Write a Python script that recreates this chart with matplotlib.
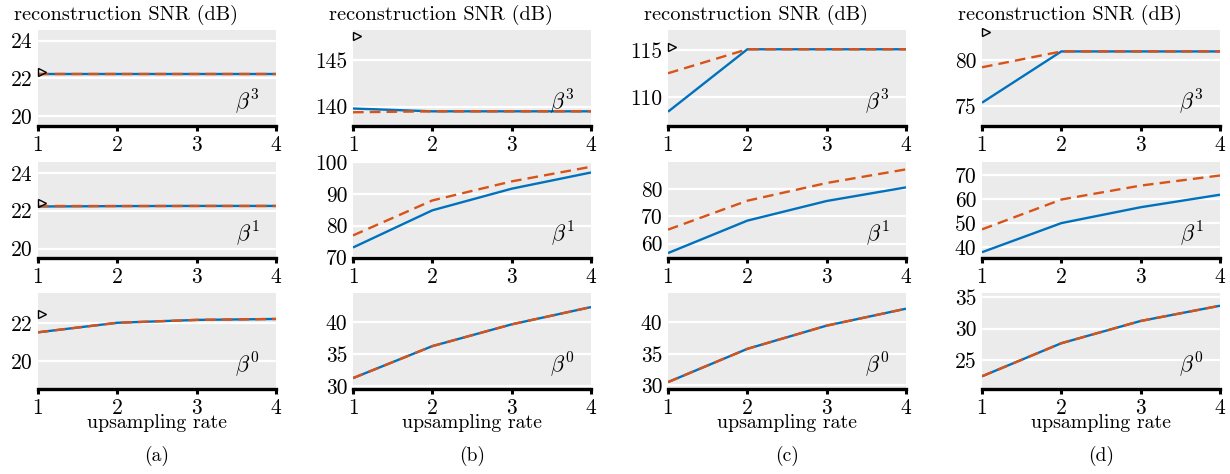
import matplotlib
matplotlib.use("Agg")
import matplotlib.pyplot as plt
import matplotlib.transforms as mtransforms

plt.rcParams['font.family'] = 'serif'
plt.rcParams['font.serif'] = ['cmr10']
plt.rcParams['mathtext.fontset'] = 'cm'
plt.rcParams['axes.unicode_minus'] = False
plt.rcParams['axes.formatter.use_mathtext'] = True

# ---------------- data ----------------
rates = [1, 2, 3, 4]
column_tags = ['(a)', '(b)', '(c)', '(d)']
row_labels = [r'$\beta^3$', r'$\beta^1$', r'$\beta^0$']

# solid (blue) series per column, rows = beta^3, beta^1, beta^0
solid_a = [[22.25, 22.25, 22.25, 22.25], [22.22, 22.24, 22.25, 22.25], [21.5, 22.0, 22.15, 22.2]]
dashed_a = [[22.25, 22.25, 22.25, 22.25], [22.25, 22.25, 22.25, 22.25], [21.5, 22.0, 22.15, 22.2]]
solid_b = [[139.8, 139.5, 139.5, 139.5], [73.1, 84.8, 91.6, 96.7], [31.3, 36.3, 39.7, 42.4]]
dashed_b = [[139.4, 139.5, 139.5, 139.5], [76.9, 87.9, 93.9, 98.5], [31.3, 36.3, 39.7, 42.4]]
solid_c = [[108.5, 115.07, 115.07, 115.07], [56.5, 68.4, 75.6, 80.6], [30.5, 35.8, 39.5, 42.2]]
dashed_c = [[112.55, 115.07, 115.07, 115.07], [65.1, 75.7, 82.2, 87.2], [30.5, 35.8, 39.5, 42.2]]
solid_d = [[75.4, 80.9, 80.9, 80.9], [37.8, 49.9, 56.5, 61.7], [22.5, 27.7, 31.2, 33.6]]
dashed_d = [[79.2, 80.9, 80.9, 80.9], [47.3, 59.7, 65.5, 69.7], [22.5, 27.7, 31.2, 33.6]]

# reference values (triangle markers at rate 1); None = no marker
ref_a = [22.35, 22.38, 22.44]
ref_b = [147.6, None, None]
ref_c = [115.35, None, None]
ref_d = [83.0, None, None]

ylims_a = [(19.47, 24.57), (19.5, 24.57), (18.53, 23.56)]
ylims_b = [(137.93, 148.2), (69.8, 100.0), (29.6, 44.6)]
ylims_c = [(107.0, 117.1), (54.7, 89.9), (29.4, 44.7)]
ylims_d = [(72.9, 83.2), (35.4, 75.3), (20.5, 35.6)]

yticks_a = [[20, 22, 24], [20, 22, 24], [20, 22]]
yticks_b = [[140, 145], [70, 80, 90, 100], [30, 35, 40]]
yticks_c = [[110, 115], [60, 70, 80], [30, 35, 40]]
yticks_d = [[75, 80], [40, 50, 60, 70], [25, 30, 35]]

solids = [solid_a, solid_b, solid_c, solid_d]
dashes = [dashed_a, dashed_b, dashed_c, dashed_d]
refs = [ref_a, ref_b, ref_c, ref_d]
ylims = [ylims_a, ylims_b, ylims_c, ylims_d]
yticks = [yticks_a, yticks_b, yticks_c, yticks_d]

BLUE = '#0072BD'
ORANGE = '#D95319'
BG = '#EBEBEB'

W, H = 1230, 474
fig = plt.figure(figsize=(W / 100, H / 100), dpi=100)

col_left = [38, 353, 668, 982]
row_top = [30, 162, 293]
aw, ah = 238, 96

TICK_FS = 15.5
for c in range(4):
    for r in range(3):
        l = col_left[c]
        t = row_top[r]
        ax = fig.add_axes([l / W, (H - t - ah) / H, aw / W, ah / H])
        ax.set_facecolor(BG)
        for s in ['top', 'right', 'left']:
            ax.spines[s].set_visible(False)
        ax.spines['bottom'].set_linewidth(2.4)
        ax.spines['bottom'].set_color('black')
        ax.set_xlim(1, 4)
        ax.set_ylim(*ylims[c][r])
        ax.set_xticks(rates)
        ax.set_xticklabels([str(v) for v in rates])
        ax.set_yticks(yticks[c][r])
        ax.set_yticklabels([str(v) for v in yticks[c][r]])
        ax.tick_params(axis='x', direction='out', length=3.5, width=2.2, pad=3,
                       labelsize=TICK_FS, color='black')
        ax.tick_params(axis='y', length=0, pad=4, labelsize=TICK_FS)
        ax.yaxis.grid(True, color='white', linewidth=1.6)
        ax.xaxis.grid(False)
        ax.set_axisbelow(True)
        ax.plot(rates, solids[c][r], color=BLUE, lw=1.7, solid_capstyle='butt', zorder=3)
        ax.plot(rates, dashes[c][r], color=ORANGE, lw=1.7, dashes=(4.5, 2.6), zorder=4)
        ref = refs[c][r]
        if ref is not None:
            off = mtransforms.ScaledTranslation(4 / 100, 0, fig.dpi_scale_trans)
            ax.plot([rates[0]], [ref], marker='>', markersize=5.5, markerfacecolor='none',
                    markeredgecolor='black', markeredgewidth=1.0, linestyle='none',
                    transform=ax.transData + off, clip_on=False, zorder=5)
        ax.text(0.88, 0.25, row_labels[r], transform=ax.transAxes, fontsize=16,
                ha='center', va='center', zorder=6)
        if r == 0:
            ax.annotate('reconstruction SNR (dB)', xy=(0, 1), xycoords='axes fraction',
                        xytext=(-24 * 0.72, 10.5), textcoords='offset points',
                        ha='left', va='center', fontsize=14.7)
        if r == 2:
            ax.set_xlabel('upsampling rate', fontsize=14.3, labelpad=-2.5)
            ax.annotate(column_tags[c], xy=(0.5, 0), xycoords='axes fraction',
                        xytext=(0, -67 * 0.72), textcoords='offset points',
                        ha='center', va='center', fontsize=14)

fig.savefig('out.png', dpi=100)
